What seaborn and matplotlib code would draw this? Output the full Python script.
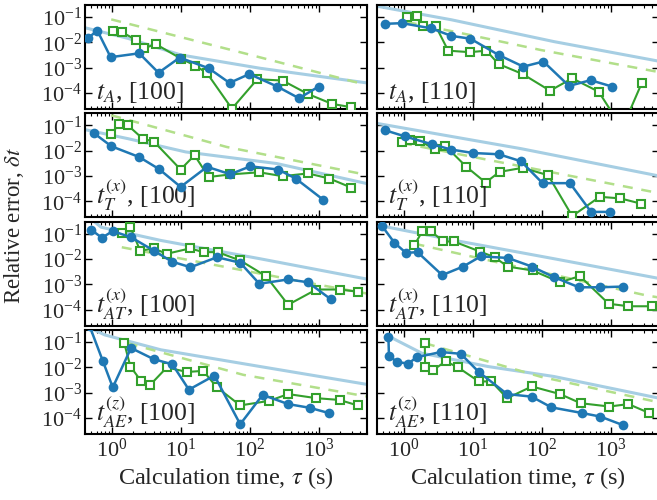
import matplotlib
matplotlib.use("Agg")
import matplotlib.pyplot as plt
import seaborn as sns

# === data (tau in s, relative error) ===
# t_A [100]
a100_circ_t = [0.44, 0.61, 0.95, 2.47, 4.71, 9.55, 25.2, 50.6, 98, 249, 516, 1000]
a100_circ_err = [1.45e-2, 2.9e-2, 2.6e-3, 3.7e-3, 6.3e-4, 2.5e-3, 9.5e-4, 2.5e-4, 5.6e-4, 1.8e-4, 6.2e-5, 1.8e-4]
a100_sq_t = [1.02, 1.39, 2.22, 2.92, 4.31, 9.9, 16.2, 23.9, 54.8, 128, 298, 697, 1560, 2940]
a100_sq_err = [2.9e-2, 2.5e-2, 1.26e-2, 5.9e-3, 8.5e-3, 2.3e-3, 1.2e-3, 6.0e-4, 2.4e-5, 3.5e-4, 3.1e-4, 9.1e-5, 3.7e-5, 2.75e-5]
a100_ref1_t = [0.4, 1.68, 9.86, 140, 5000]
a100_ref1_err = [3.8e-2, 1.45e-2, 3.2e-3, 9.5e-4, 2.5e-4]
a100_ref2_t = [0.97, 90, 3890]
a100_ref2_err = [8.1e-2, 3.5e-3, 2.45e-4]

# t_A [110]
a110_circ_t = [0.52, 0.93, 2.45, 4.86, 9.14, 23.4, 53.6, 105, 247, 507, 1040]
a110_circ_err = [5.4e-2, 5.75e-2, 3.6e-2, 1.8e-2, 1.4e-2, 3.2e-3, 1.1e-3, 1.75e-3, 1.9e-4, 3.2e-4, 1.8e-4]
a110_sq_t = [1.09, 1.52, 1.9, 2.86, 4.35, 8.93, 15.6, 23.4, 52.4, 131, 275, 667, 1460, 2810]
a110_sq_err = [0.105, 0.112, 4.5e-2, 4.5e-2, 4.7e-3, 4.1e-3, 4.7e-3, 1.4e-3, 5.6e-4, 1.23e-4, 3.8e-4, 1.12e-4, 4e-6, 2.45e-4]
a110_ref1_t = [0.4, 4.86, 150, 5000]
a110_ref1_err = [0.27, 7.8e-2, 1.07e-2, 1.8e-3]
a110_ref2_t = [1.09, 6.8, 96, 5000]
a110_ref2_err = [6.4e-2, 2.3e-2, 5.0e-3, 6.7e-4]

# t_T^(x) [100]
t100_circ_t = [0.54, 0.97, 2.47, 4.81, 9.86, 23.9, 51.9, 101, 257, 463, 1150]
t100_circ_err = [5.0e-2, 1.5e-2, 5.6e-3, 1.86e-3, 3.7e-4, 2.3e-3, 1.17e-3, 2.4e-3, 1.8e-3, 7.9e-4, 1.17e-4]
t100_sq_t = [0.95, 1.27, 1.68, 2.77, 4.07, 9.86, 15.7, 25.2, 51.9, 136, 298, 697, 1430, 2940]
t100_sq_err = [4.5e-2, 0.111, 0.102, 3.0e-2, 2.24e-2, 1.8e-3, 6.6e-3, 9.1e-4, 1.15e-3, 1.4e-3, 9.8e-4, 1.26e-3, 7.9e-4, 3.5e-4]
t100_ref1_t = [0.4, 1.68, 11.7, 245, 5000]
t100_ref1_err = [6.8e-2, 3.0e-2, 8.9e-3, 3.1e-3, 5.0e-4]
t100_ref2_t = [0.97, 46, 5000]
t100_ref2_err = [0.25, 1.4e-2, 1.1e-3]

# t_T^(x) [110]
t110_circ_t = [0.52, 1.01, 2.51, 4.86, 9.98, 23.7, 49.7, 102, 255, 516, 984]
t110_circ_err = [6.5e-2, 3.7e-2, 1.8e-2, 1.1e-2, 8.1e-3, 7.2e-3, 3.8e-3, 5.2e-4, 5.2e-4, 3.8e-5, 3.8e-5]
t110_sq_t = [0.93, 1.22, 1.70, 2.80, 3.90, 8.0, 15.2, 24.2, 52.4, 123, 275, 690, 1370, 2720]
t110_sq_err = [2.24e-2, 2.6e-2, 2.4e-2, 1.12e-2, 1.6e-2, 2.3e-3, 5.5e-4, 1.45e-3, 2.1e-3, 1.07e-3, 2.6e-5, 1.5e-4, 1.3e-4, 8.1e-5]
t110_ref1_t = [0.4, 49.7, 5000]
t110_ref1_err = [0.12, 1.2e-2, 1.0e-3]
t110_ref2_t = [0.93, 5.43, 5000]
t110_ref2_err = [2.0e-2, 7.8e-3, 2.1e-4]

# t_AT^(x) [100]
at100_circ_t = [0.49, 0.71, 1.02, 1.88, 4.07, 7.33, 13.7, 33.3, 72.3, 137, 359, 697, 1510]
at100_circ_err = [0.145, 6.9e-2, 0.126, 7.2e-2, 2.1e-2, 7.9e-3, 4.7e-3, 1.17e-2, 7.1e-3, 1.05e-3, 1.55e-3, 1.2e-3, 2.5e-4]
at100_sq_t = [1.38, 1.84, 2.56, 3.99, 6.21, 13.4, 21.4, 34.0, 72.3, 171, 359, 920, 2000, 3660]
at100_sq_err = [0.107, 0.178, 2.1e-2, 2.6e-2, 1.6e-2, 2.6e-2, 1.86e-2, 1.86e-2, 8.7e-3, 2.1e-3, 1.55e-4, 6.2e-4, 6.2e-4, 5.1e-4]
at100_ref1_t = [0.55, 0.69, 5.08, 140, 5000]
at100_ref1_err = [0.3, 0.18, 5.4e-2, 1.02e-2, 1.6e-3]
at100_ref2_t = [1.38, 7.9, 1150, 5000]
at100_ref2_err = [2.9e-2, 1.17e-2, 8.9e-4, 4.3e-4]

# t_AT^(x) [110]
at110_circ_t = [0.48, 0.72, 1.06, 1.56, 3.56, 7.16, 12.9, 31.8, 71.4, 150, 344, 706, 1490]
at110_circ_err = [0.195, 4.4e-2, 1.74e-2, 1.86e-2, 2.3e-3, 5.0e-3, 1.26e-2, 1.1e-2, 5.0e-3, 1.9e-3, 7.6e-4, 7.6e-4, 8.1e-4]
at110_sq_t = [1.41, 1.84, 2.45, 3.68, 5.25, 12.7, 20.5, 31.8, 73, 183, 355, 929, 1800, 3910]
at110_sq_err = [3.6e-2, 0.126, 0.126, 4.9e-2, 4.9e-2, 1.95e-2, 1.17e-2, 5.0e-3, 3.5e-3, 1.2e-3, 2.1e-3, 1.7e-4, 1.35e-4, 1.35e-4]
at110_ref1_t = [0.4, 5.43, 150, 5000]
at110_ref1_err = [0.22, 5.4e-2, 1.02e-2, 1.7e-3]
at110_ref2_t = [1.41, 13.2, 3310, 5000]
at110_ref2_err = [4.0e-2, 1.02e-2, 3.6e-4, 3.0e-4]

# t_AE^(z) [100]
ae100_circ_t = [0.47, 0.73, 1.02, 1.88, 3.99, 7.5, 13.0, 30.5, 72.3, 153, 359, 736, 1400]
ae100_circ_err = [0.43, 1.8e-2, 1.6e-3, 5.75e-2, 2.1e-2, 1.3e-2, 1.3e-3, 4.7e-3, 5.6e-5, 8.1e-4, 3.5e-4, 2.5e-4, 1.55e-4]
ae100_sq_t = [1.50, 1.84, 2.62, 3.56, 6.21, 12.3, 20.9, 33.3, 72.3, 191, 359, 920, 2000, 3660]
ae100_sq_err = [8.9e-2, 1.07e-2, 2.9e-3, 2.0e-3, 9.8e-3, 6.5e-3, 7.2e-3, 1.6e-3, 3.1e-4, 4.7e-4, 8.7e-4, 6.0e-4, 5.1e-4, 3.1e-4]
ae100_ref1_t = [0.55, 0.78, 5.08, 140, 5000]
ae100_ref1_err = [0.3, 0.19, 4.9e-2, 1.07e-2, 2.1e-3]
ae100_ref2_t = [1.68, 80.5, 5000]
ae100_ref2_err = [8.9e-2, 5.0e-3, 7.0e-4]

# t_AE^(z) [110]
ae110_circ_t = [0.59, 0.60, 0.785, 1.15, 1.52, 3.41, 6.62, 12.1, 31.2, 70.6, 137, 384, 706, 1490]
ae110_circ_err = [0.162, 2.9e-2, 1.6e-2, 1.4e-2, 2.5e-2, 4.0e-2, 3.4e-2, 6.5e-3, 8.7e-4, 6.9e-4, 2.6e-4, 1.55e-4, 1.12e-4, 5.2e-5]
ae110_sq_t = [1.99, 2.01, 2.65, 3.99, 5.94, 12.1, 18.4, 31.2, 71.4, 183, 363, 951, 1800, 3620]
ae110_sq_err = [8.9e-2, 1.07e-2, 7.9e-3, 1.7e-2, 1.02e-2, 2.75e-3, 2.75e-3, 6.0e-4, 1.74e-3, 8.7e-4, 3.8e-4, 2.8e-4, 3.5e-4, 1.55e-4]
ae110_ref1_t = [0.59, 1.80, 16.4, 150, 5000]
ae110_ref1_err = [0.17, 3.6e-2, 1.07e-2, 4.3e-3, 6.0e-4]
ae110_ref2_t = [2.0, 96, 5000]
ae110_ref2_err = [8.9e-2, 4.2e-3, 4.1e-4]

panel_labels = [
    r"$t_{A}$, [100]", r"$t_{A}$, [110]",
    r"$t_{T}^{(x)}$, [100]", r"$t_{T}^{(x)}$, [110]",
    r"$t_{AT}^{(x)}$, [100]", r"$t_{AT}^{(x)}$, [110]",
    r"$t_{AE}^{(z)}$, [100]", r"$t_{AE}^{(z)}$, [110]",
]

panels = [
    (a100_circ_t, a100_circ_err, a100_sq_t, a100_sq_err, a100_ref1_t, a100_ref1_err, a100_ref2_t, a100_ref2_err),
    (a110_circ_t, a110_circ_err, a110_sq_t, a110_sq_err, a110_ref1_t, a110_ref1_err, a110_ref2_t, a110_ref2_err),
    (t100_circ_t, t100_circ_err, t100_sq_t, t100_sq_err, t100_ref1_t, t100_ref1_err, t100_ref2_t, t100_ref2_err),
    (t110_circ_t, t110_circ_err, t110_sq_t, t110_sq_err, t110_ref1_t, t110_ref1_err, t110_ref2_t, t110_ref2_err),
    (at100_circ_t, at100_circ_err, at100_sq_t, at100_sq_err, at100_ref1_t, at100_ref1_err, at100_ref2_t, at100_ref2_err),
    (at110_circ_t, at110_circ_err, at110_sq_t, at110_sq_err, at110_ref1_t, at110_ref1_err, at110_ref2_t, at110_ref2_err),
    (ae100_circ_t, ae100_circ_err, ae100_sq_t, ae100_sq_err, ae100_ref1_t, ae100_ref1_err, ae100_ref2_t, ae100_ref2_err),
    (ae110_circ_t, ae110_circ_err, ae110_sq_t, ae110_sq_err, ae110_ref1_t, ae110_ref1_err, ae110_ref2_t, ae110_ref2_err),
]

# === style ===
sns.set_theme(style="ticks")
plt.rcParams["font.family"] = ["Liberation Serif", "DejaVu Serif"]
plt.rcParams["mathtext.fontset"] = "stix"
plt.rcParams["xtick.direction"] = "in"
plt.rcParams["ytick.direction"] = "in"
plt.rcParams["xtick.top"] = True
plt.rcParams["ytick.right"] = True
plt.rcParams["xtick.minor.visible"] = True

pal = sns.color_palette("Paired")
light_blue, dark_blue, light_green, dark_green = pal[0], pal[1], pal[2], pal[3]

fig, axes = plt.subplots(4, 2, figsize=(6.57, 5.0), dpi=100, sharex=True, sharey=True)
fig.subplots_adjust(left=0.129, right=1.003, top=0.99, bottom=0.132, wspace=0.035, hspace=0.04)

for i, ax in enumerate(axes.flat):
    ct, ce, st, se, r1t, r1e, r2t, r2e = panels[i]
    ax.set_xscale("log")
    ax.set_yscale("log")
    sns.lineplot(x=r1t, y=r1e, ax=ax, color=light_blue, lw=2.2, estimator=None, sort=False, zorder=1)
    sns.lineplot(x=r2t, y=r2e, ax=ax, color=light_green, lw=1.8, linestyle=(0, (4, 3.5)),
                 estimator=None, sort=False, zorder=1)
    sns.lineplot(x=st, y=se, ax=ax, color=dark_green, lw=1.5, marker="s", markersize=6,
                 markerfacecolor="white", markeredgecolor=dark_green, markeredgewidth=1.5,
                 estimator=None, sort=False, zorder=3)
    sns.lineplot(x=ct, y=ce, ax=ax, color=dark_blue, lw=1.8, marker="o", markersize=7,
                 markeredgewidth=0, estimator=None, sort=False, zorder=4)
    ax.set_xlim(0.4, 5000)
    ax.set_ylim(2.3e-5, 0.3)
    ax.set_yticks([1e-1, 1e-2, 1e-3, 1e-4])
    ax.set_xticks([1, 10, 100, 1000])
    ax.tick_params(which="major", length=5, width=1.0, labelsize=16, color="black")
    ax.tick_params(which="minor", length=2.5, width=0.8, color="black")
    ax.tick_params(axis="y", pad=2)
    for s in ax.spines.values():
        s.set_linewidth(1.5)
        s.set_color("black")
    ax.text(0.04, 0.04, panel_labels[i], transform=ax.transAxes, fontsize=18.5,
            ha="left", va="bottom")
    ax.set_xlabel("")
    ax.set_ylabel("")

for ax in axes[-1]:
    ax.set_xlabel(r"Calculation time, $\tau$ (s)", fontsize=17.5, labelpad=2)

fig.text(0.021, 0.55, r"Relative error, $\delta t$", rotation=90, fontsize=16.5,
         ha="center", va="center")

fig.savefig("out.png", dpi=100)
